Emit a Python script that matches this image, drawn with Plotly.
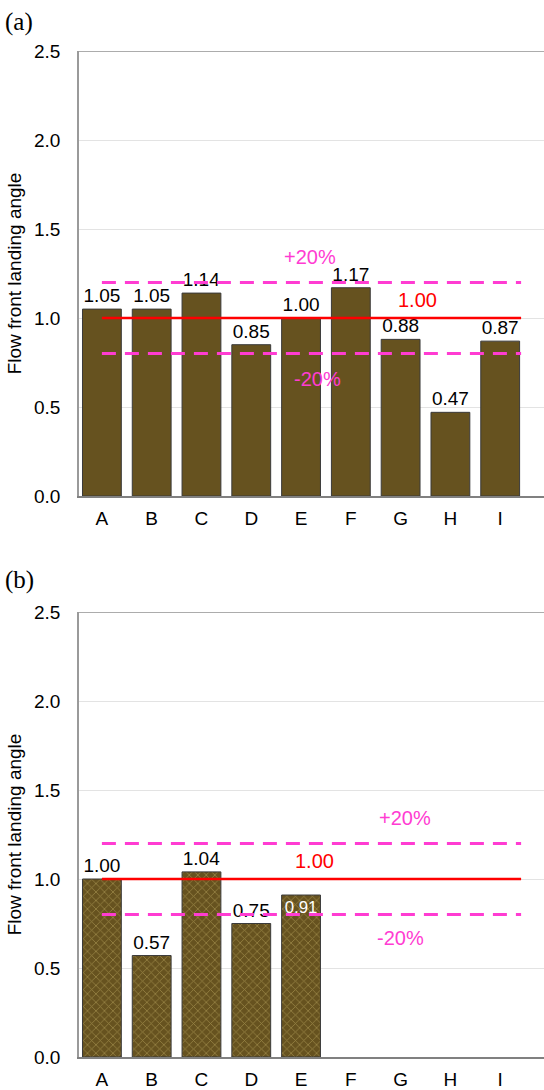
import plotly.graph_objects as go

categories = ["A", "B", "C", "D", "E", "F", "G", "H", "I"]
values_a = [1.05, 1.05, 1.14, 0.85, 1.00, 1.17, 0.88, 0.47, 0.87]
values_b = [1.00, 0.57, 1.04, 0.75, 0.91, None, None, None, None]
reference = 1.00
upper = 1.20
lower = 0.80
y_ticks = [0.0, 0.5, 1.0, 1.5, 2.0, 2.5]

W, H = 544, 1090
FONT = "Liberation Sans, Arial, sans-serif"
BAR = "#66521F"
MAG = "#FF3CD2"
RED = "#FF0000"

x_idx = list(range(len(categories)))
line_x = [0, 8.42]

fig = go.Figure()

def add_panel(vals, xa, ya, patterned, inside_idx=None):
    pos = []
    for i, v in enumerate(vals):
        pos.append("inside" if inside_idx is not None and i == inside_idx else "outside")
    marker = dict(color=BAR, line=dict(color="#3a3a3a", width=1))
    if patterned:
        marker["pattern"] = dict(shape="x", fgcolor="#C9B56A", bgcolor=BAR, size=6, solidity=0.25)
    fig.add_trace(go.Bar(
        x=x_idx, y=vals, xaxis=xa, yaxis=ya, width=0.78,
        marker=marker,
        text=[("" if v is None else f"{v:.2f}") for v in vals],
        textposition=pos, insidetextanchor="end", textangle=0,
        textfont=dict(family=FONT, size=19, color="black"),
        insidetextfont=dict(family=FONT, size=19, color="white"),
        outsidetextfont=dict(family=FONT, size=19, color="black"),
        cliponaxis=False, showlegend=False, hoverinfo="skip",
    ))
    fig.add_trace(go.Scatter(x=line_x, y=[reference] * 2, xaxis=xa, yaxis=ya, mode="lines",
                             line=dict(color=RED, width=2.5), showlegend=False))
    for yv in (upper, lower):
        fig.add_trace(go.Scatter(x=line_x, y=[yv] * 2, xaxis=xa, yaxis=ya, mode="lines",
                                 line=dict(color=MAG, width=3, dash="14px,9px"), showlegend=False))

add_panel(values_a, "x", "y", False)
add_panel(values_b, "x2", "y2", True, inside_idx=4)

xcommon = dict(range=[-0.46, 8.88], tickmode="array", tickvals=x_idx, ticktext=categories,
               showgrid=False, zeroline=False, showline=True, linecolor="#808080", linewidth=1.5,
               ticks="", ticklabelstandoff=4, automargin=False,
               tickfont=dict(family=FONT, size=19, color="black"))
ycommon = dict(range=[0, 2.5], tickmode="array", tickvals=y_ticks,
               ticktext=[f"{t:.1f}" for t in y_ticks],
               showgrid=True, gridcolor="#E3E3E3", gridwidth=1, zeroline=False,
               showline=True, linecolor="#9A9A9A", linewidth=1.5, mirror=False,
               ticks="", ticklabelstandoff=13, automargin=False,
               tickfont=dict(family=FONT, size=19, color="black"),
               title=dict(text="Flow front landing angle", standoff=7,
                          font=dict(family=FONT, size=19, color="black")))

xd = [79 / W, 1.0]
fig.update_layout(
    width=W, height=H, margin=dict(l=0, r=0, t=0, b=0, autoexpand=False),
    paper_bgcolor="white", plot_bgcolor="white", bargap=0.2,
    xaxis=dict(domain=xd, anchor="y", **xcommon),
    yaxis=dict(domain=[1 - 496 / H, 1 - 51 / H], anchor="x", **ycommon),
    xaxis2=dict(domain=xd, anchor="y2", **xcommon),
    yaxis2=dict(domain=[1 - 1057 / H, 1 - 612 / H], anchor="x2", **ycommon),
)

# top border lines
for ya in ("y", "y2"):
    fig.add_shape(type="line", xref="paper", x0=79 / W, x1=1, yref=ya, y0=2.5, y1=2.5,
                  line=dict(color="#909090", width=1.5))

ann = []
def t(x, y, s, color, xr, yr):
    ann.append(dict(x=x, y=y, xref=xr, yref=yr, text=s, showarrow=False,
                    font=dict(family=FONT, size=20, color=color)))

t(4.18, 1.34, "+20%", MAG, "x", "y")
t(4.34, 0.66, "-20%", MAG, "x", "y")
t(6.33, 1.10, "1.00", RED, "x", "y")
t(6.09, 1.345, "+20%", MAG, "x2", "y2")
t(5.99, 0.67, "-20%", MAG, "x2", "y2")
t(4.28, 1.10, "1.00", RED, "x2", "y2")

for lab, ypix in (("(a)", 22), ("(b)", 580)):
    ann.append(dict(x=3 / W, y=1 - ypix / H, xref="paper", yref="paper", text=lab,
                    showarrow=False, xanchor="left", yanchor="middle",
                    font=dict(family="Liberation Serif, Times New Roman, serif", size=25, color="black")))
fig.update_layout(annotations=ann)

fig.write_html("out.html")
